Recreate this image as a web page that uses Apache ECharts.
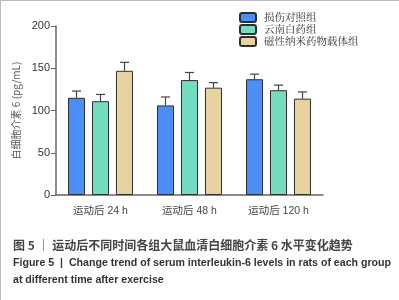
<!DOCTYPE html>
<html>
<head>
<meta charset="utf-8">
<script src="https://cdn.jsdelivr.net/npm/echarts@6/dist/echarts.min.js"></script>
<style>
  html, body { margin: 0; padding: 0; background: #fff; }
  #chart { width: 399px; height: 300px; box-sizing: border-box; border-top: 1px solid #bdbdbd; border-left: 1px solid #bdbdbd; }
</style>
</head>
<body>
<div id="chart"></div>
<script>
// categories and groups
const categories = ["运动后 24 h", "运动后 48 h", "运动后 120 h"];
const groupNames = ["损伤对照组", "云南白药组", "磁性纳米药物载体组"];
// mean values (pg/mL), one array per group
const controlMean = [115, 106, 137];
const baiyaoMean = [111, 136, 124];
const nanoMean = [147, 127, 114];
// error bar (SD) per group
const controlSd = [8, 10, 6];
const baiyaoSd = [8, 9, 6];
const nanoSd = [10, 6, 8];
const yTicks = [0, 50, 100, 150, 200];

const colors = ["#4a8ef6", "#74dcbf", "#e8d3a0"];
const means = [controlMean, baiyaoMean, nanoMean];
const sds = [controlSd, baiyaoSd, nanoSd];

const chart = echarts.init(document.getElementById("chart"));

const barSeries = means.map(function (vals, i) {
    return {
        name: groupNames[i],
        type: "bar",
        data: vals,
        barWidth: 17,
        barGap: "41%",
        itemStyle: { color: colors[i], borderColor: "#2e2e2e", borderWidth: 1 },
        z: 2
    };
});

const errSeries = means.map(function (vals, i) {
    return {
        type: "custom",
        data: vals.map(function (v, c) { return [c, v, sds[i][c]]; }),
        z: 1,
        silent: true,
        renderItem: function (params, api) {
            const c = api.value(0);
            const base = api.coord([c, api.value(1)]);
            const top = api.coord([c, api.value(1) + api.value(2)]);
            const x = base[0] + (i - 1) * 24;
            const st = { stroke: "#444", lineWidth: 1.2 };
            return {
                type: "group",
                children: [
                    { type: "line", shape: { x1: x, y1: base[1], x2: x, y2: top[1] }, style: st },
                    { type: "line", shape: { x1: x - 4.5, y1: top[1], x2: x + 4.5, y2: top[1] }, style: st }
                ]
            };
        }
    };
});

chart.setOption({
    animation: false,
    textStyle: { fontFamily: "Liberation Sans, Noto Sans CJK SC, sans-serif" },
    legend: {
        orient: "vertical",
        left: 233,
        top: 6,
        itemWidth: 16,
        itemHeight: 9,
        itemGap: 1,
        data: groupNames,
        textStyle: { fontSize: 10.5, lineHeight: 11, color: "#333", fontFamily: "Noto Serif CJK SC, Noto Sans CJK SC", padding: [0, 0, 0, 3] }
    },
    grid: { left: 55, right: 76, top: 25, bottom: 105 },
    xAxis: {
        type: "category",
        data: categories,
        axisLine: { lineStyle: { color: "#666", width: 1.5 } },
        axisTick: { alignWithLabel: true, length: 4, lineStyle: { color: "#666" } },
        axisLabel: { fontSize: 10.5, color: "#444", margin: 11 }
    },
    yAxis: {
        type: "value",
        min: 0,
        max: 200,
        interval: 50,
        name: "白细胞介素 6 (pg/mL)",
        nameLocation: "middle",
        nameGap: 35,
        nameTextStyle: { fontSize: 10, color: "#555", fontFamily: "Noto Sans CJK SC" },
        axisLine: { show: true, lineStyle: { color: "#666", width: 1.5 } },
        axisTick: { show: true, length: 5, lineStyle: { color: "#666" } },
        splitLine: { show: false },
        axisLabel: {
            fontSize: 11, color: "#333", margin: 6,
            formatter: function (v) { return yTicks.indexOf(v) >= 0 ? String(v) : ""; }
        }
    },
    graphic: [
        { type: "text", left: 12, top: 238, style: { text: "图 5 ｜ 运动后不同时间各组大鼠血清白细胞介素 6 水平变化趋势", fontSize: 12, fontWeight: "bold", fill: "#444", fontFamily: "Noto Sans CJK SC" } },
        { type: "text", left: 12, top: 257, style: { text: "Figure 5  |  Change trend of serum interleukin-6 levels in rats of each group", fontSize: 10.6, fontWeight: "bold", fill: "#333", fontFamily: "Liberation Sans" } },
        { type: "text", left: 12, top: 274, style: { text: "at different time after exercise", fontSize: 10.6, fontWeight: "bold", fill: "#333", fontFamily: "Liberation Sans" } }
    ],
    series: barSeries.concat(errSeries)
});
</script>
</body>
</html>
